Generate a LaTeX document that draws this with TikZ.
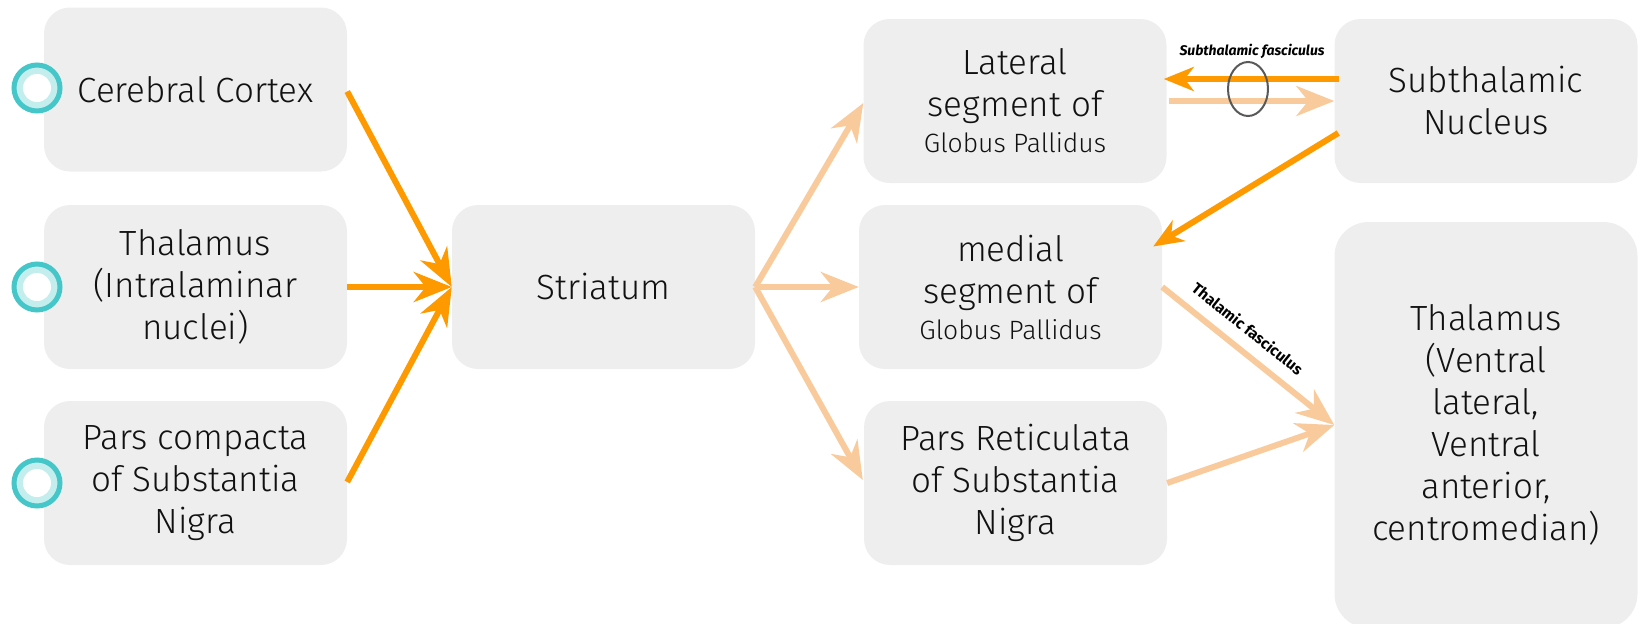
\documentclass[tikz,border=0pt]{standalone}
\usepackage{fontspec}
\setmainfont{Fira Sans}[UprightFont={* Light}, BoldFont={* Bold}, BoldItalicFont={* Bold Italic}]
\usetikzlibrary{arrows.meta,calc}
\definecolor{boxgray}{HTML}{EEEEEE}
\definecolor{orangeD}{HTML}{FF9900}
\definecolor{orangeL}{HTML}{F9CB9C}
\definecolor{tealD}{HTML}{45C6C9}
\definecolor{tealL}{HTML}{C4EDEE}
\definecolor{txt}{HTML}{111111}
\begin{document}
\begin{tikzpicture}[x=1pt,y=-1pt,
  box/.style={fill=boxgray, rounded corners=26pt, minimum width=303pt, minimum height=164pt, align=center, inner sep=0pt, text=txt, font=\fontsize{35}{42}\selectfont},
  bigtip/.style={-{Stealth[length=38pt,width=30pt,inset=12pt]}},
  smalltip/.style={-{Stealth[length=30pt,width=24pt,inset=9pt]}},
  dark/.style={draw=orangeD, line width=6pt},
  light/.style={draw=orangeL, line width=6pt},
  ring/.style={circle, draw=tealD, line width=5pt, fill=tealL, minimum size=46pt, inner sep=0pt},
  hole/.style={circle, fill=white, minimum size=28pt, inner sep=0pt}
]
\useasboundingbox (0,0) rectangle (1642,624);

% boxes
\node[box] (cc) at (195.5,89.5) {Cerebral Cortex};
\node[box] (th) at (195.5,287) {Thalamus\\(Intralaminar\\nuclei)};
\node[box] (pc) at (195.5,483) {Pars compacta\\of Substantia\\Nigra};
\node[box] (st) at (603.5,287) {Striatum};
\node[box] (lat) at (1015,101) {Lateral\\segment of\\[-6pt]{\fontsize{26.5}{32}\selectfont Globus Pallidus}};
\node[box] (med) at (1010.5,287) {medial\\segment of\\[-6pt]{\fontsize{26.5}{32}\selectfont Globus Pallidus}};
\node[box] (pr) at (1015.5,483) {Pars Reticulata\\of Substantia\\Nigra};
\node[box] (stn) at (1486,101) {Subthalamic\\Nucleus};
\node[box, minimum height=406pt, rounded corners=34pt] (tv) at (1486,425) {Thalamus\\(Ventral\\lateral,\\Ventral\\anterior,\\centromedian)};

% bullets
\node[ring] (r1) at (37,88) {};
\node[hole] (h1) at (r1.center) {};
\node[ring] (r2) at (37,287) {};
\node[hole] (h2) at (r2.center) {};
\node[ring] (r3) at (37,483) {};
\node[hole] (h3) at (r3.center) {};

% inputs to striatum
\draw[dark, bigtip] ($(cc.east)+(0,2)$) -- (st.west);
\draw[dark, bigtip] (th.east) -- (st.west);
\draw[dark, bigtip] ($(pc.east)+(0,-1)$) -- (st.west);

% striatum outputs
\draw[light, bigtip] (st.east) -- ($(lat.west)+(0,2)$);
\draw[light, bigtip] (st.east) -- (med.west);
\draw[light, bigtip] (st.east) -- ($(pr.west)+(-1,-3)$);

% subthalamic fasciculus
\draw[dark, smalltip] ($(stn.west)+(5,-22)$) -- ($(lat.east)+(-3,-22)$);
\draw[light, bigtip] ($(lat.east)+(2,0)$) -- (stn.west);
\draw[draw=black!65, line width=2pt] (1248,89) ellipse [x radius=20, y radius=27];
\node[font=\bfseries\itshape\fontsize{14}{16}\selectfont, text=black] (sfl) at (1252,51) {Subthalamic fasciculus};

% subthalamic nucleus to medial
\draw[dark, smalltip] ($(stn.west)+(4,32)$) -- ($(med.east)+(-9,-40.5)$);

% to ventral thalamus
\draw[light, bigtip] (med.east) -- node[pos=0.42, sloped, above=12pt, inner sep=0pt, font=\bfseries\fontsize{15.5}{17}\selectfont, text=black] (tfl) {Thalamic fasciculus} (tv.west);
\draw[light, bigtip] (pr.east) -- (tv.west);
\end{tikzpicture}
\end{document}
